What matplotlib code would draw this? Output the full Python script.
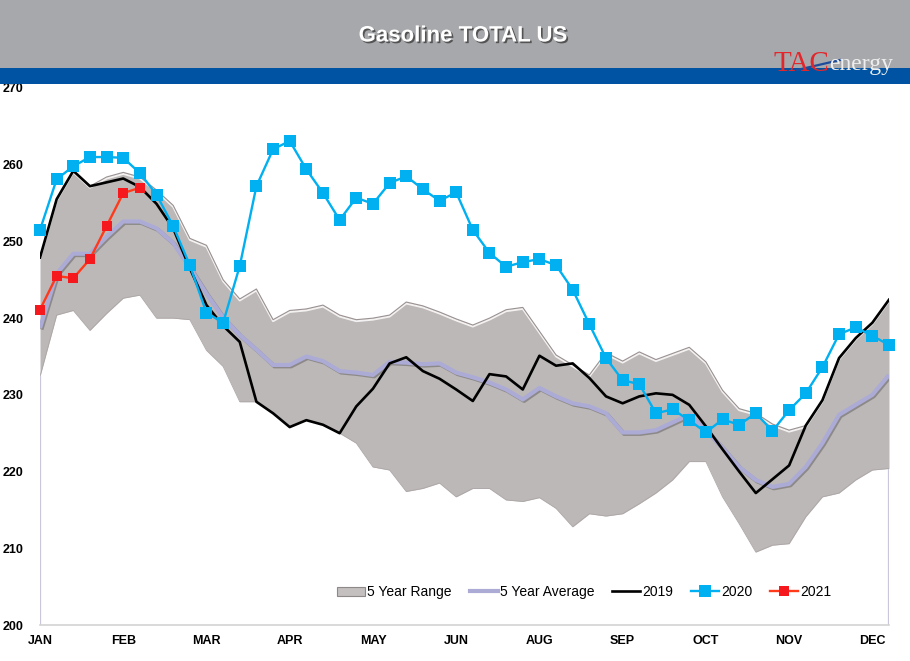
import numpy as np
import matplotlib
matplotlib.use("Agg")
import matplotlib.pyplot as plt
import matplotlib.patheffects as pe
from matplotlib.patches import Rectangle, Patch
from matplotlib.lines import Line2D
from matplotlib.transforms import offset_copy

# -------------------------
# data (weekly)
# -------------------------
month_labels = ["JAN", "FEB", "MAR", "APR", "MAY", "JUN", "AUG", "SEP", "OCT", "NOV", "DEC"]

range_upper = [247.9, 255.5, 259.2, 257.2, 258.4, 259.0, 258.4, 256.7, 254.7, 250.4,
               249.5, 245.0, 242.5, 243.8, 239.8, 241.0, 241.2, 241.7, 240.4, 239.8,
               240.0, 240.4, 242.1, 241.6, 240.8, 239.9, 239.1, 240.0, 241.1, 241.4,
               238.3, 235.2, 233.9, 232.6, 235.5, 234.4, 235.6, 234.6, 235.4, 236.2,
               234.3, 230.6, 228.2, 227.6, 226.2, 225.4, 226.0, 229.3, 234.8, 237.4,
               239.4, 242.4]

range_lower = [232.4, 240.4, 241.0, 238.4, 240.6, 242.6, 243.0, 240.0, 240.0, 239.8,
               235.8, 233.7, 229.1, 229.1, 227.6, 225.8, 226.7, 226.1, 225.0, 223.7,
               220.6, 220.2, 217.4, 217.8, 218.5, 216.7, 217.8, 217.8, 216.3, 216.1,
               216.6, 215.2, 212.8, 214.5, 214.2, 214.5, 215.8, 217.2, 218.9, 221.3,
               221.3, 216.7, 213.2, 209.5, 210.4, 210.6, 214.1, 216.7, 217.2, 218.9,
               220.2, 220.4]

avg_5yr = [238.7, 245.8, 248.4, 248.4, 250.6, 252.6, 252.6, 251.7, 249.8, 246.6,
           243.2, 240.1, 237.8, 235.9, 233.9, 233.9, 235.0, 234.4, 233.1, 232.9,
           232.6, 234.3, 234.2, 234.0, 234.1, 232.9, 232.3, 231.6, 230.7, 229.4,
           230.9, 229.8, 228.9, 228.5, 227.6, 225.1, 225.1, 225.4, 226.4, 227.4,
           225.4, 223.1, 220.6, 218.9, 218.0, 218.4, 220.6, 223.7, 227.4, 228.7,
           230.0, 232.6]

y2019 = [247.9, 255.5, 259.2, 257.2, 257.7, 258.2, 257.1, 254.9, 251.7, 246.5,
         241.7, 239.0, 236.9, 229.1, 227.6, 225.8, 226.7, 226.1, 225.0, 228.5,
         230.8, 234.1, 234.9, 233.1, 232.1, 230.7, 229.2, 232.7, 232.4, 230.7,
         235.1, 233.8, 234.1, 232.2, 229.8, 228.9, 229.8, 230.2, 230.0, 228.7,
         225.9, 222.9, 220.0, 217.2, 219.0, 220.8, 226.0, 229.3, 234.8, 237.4,
         239.4, 242.4]

y2020 = [251.5, 258.1, 259.8, 261.0, 261.0, 260.9, 258.9, 256.1, 252.0, 246.9,
         240.7, 239.4, 246.8, 257.2, 262.0, 263.1, 259.4, 256.3, 252.8, 255.7,
         254.9, 257.6, 258.5, 256.8, 255.3, 256.4, 251.5, 248.5, 246.7, 247.3,
         247.7, 246.9, 243.7, 239.2, 234.8, 231.9, 231.4, 227.6, 228.1, 226.7,
         225.1, 226.8, 226.1, 227.6, 225.3, 228.0, 230.2, 233.6, 237.9, 238.8,
         237.7, 236.5]

y2021 = [241.1, 245.5, 245.2, 247.7, 252.0, 256.3, 257.0]

weeks = np.arange(len(y2020))
tick_weeks = weeks[::5]

# -------------------------
# figure + header
# -------------------------
W, H = 910, 661
fig = plt.figure(figsize=(W / 100, H / 100), dpi=100)
fig.patch.set_facecolor("white")

def fx(px):
    return px / W

def fy(py):
    return 1 - py / H

fig.patches.append(Rectangle((0, fy(68)), 1, 1 - fy(68), transform=fig.transFigure,
                             facecolor="#A7A8AB", edgecolor="none", zorder=0))
fig.patches.append(Rectangle((0, fy(84)), 1, fy(68) - fy(84), transform=fig.transFigure,
                             facecolor="#0052A2", edgecolor="none", zorder=0))

fig.text(fx(463), fy(36), "Gasoline TOTAL US", ha="center", va="center",
         color="white", fontsize=16, fontweight="bold", family=["Liberation Sans", "DejaVu Sans"],
         path_effects=[pe.withSimplePatchShadow(offset=(1.2, -1.2), shadow_rgbFace="#303030", alpha=0.7)])

# logo
fig.text(fx(773), fy(71), "TAC", ha="left", va="baseline", color="#E3262B",
         fontsize=21, family=["Liberation Serif", "DejaVu Serif"])
fig.text(fx(829), fy(70), "energy", ha="left", va="baseline", color="#EEEEEE",
         fontsize=17, family=["Liberation Serif", "DejaVu Serif"])
fig.add_artist(Line2D([fx(797), fx(840)], [fy(70), fy(60)], transform=fig.transFigure,
                      color="#1E4C9C", lw=1.6))

# -------------------------
# plot area
# -------------------------
ax = fig.add_axes([fx(40), fy(625), fx(889) - fx(40), fy(88) - fy(625)])
ax.set_xlim(0, len(weeks) - 1)
ax.set_ylim(200, 270)

# 5 year range (beveled grey band)
ax.fill_between(weeks, range_lower, range_upper, color="#BDB8B8", lw=0, zorder=1)
ax.plot(weeks, range_upper, color="#9A9191", lw=0.8, zorder=1.2)
hl = offset_copy(ax.transData, fig=fig, x=0, y=-1.5, units="dots")
ax.plot(weeks, range_upper, color="#F3F1F1", lw=1.4, transform=hl, zorder=1.1)
ax.plot(weeks, range_lower, color="#ADA6A6", lw=0.6, zorder=1.2)
ax.vlines([weeks[0], weeks[-1]], 200, [range_lower[0], range_lower[-1]],
          color="#C8C8DA", lw=1.6, zorder=1.3)

ax.plot(weeks, avg_5yr, color="#ABABD6", lw=3.0, zorder=2, solid_capstyle="butt",
        path_effects=[pe.SimpleLineShadow(offset=(1, -1), alpha=0.25), pe.Normal()])
ax.plot(weeks, y2019, color="black", lw=1.9, zorder=3)
ax.plot(weeks, y2020, color="#00B0F0", lw=1.7, marker="s", markersize=8,
        markeredgewidth=0, zorder=4, clip_on=False)
ax.plot(weeks[:len(y2021)], y2021, color="#FF3A1A", lw=1.7, marker="s", markersize=7.5,
        markerfacecolor="#F5191E", markeredgewidth=0, zorder=5, clip_on=False)

for side in ["top", "left", "right"]:
    ax.spines[side].set_visible(False)
ax.spines["bottom"].set_color("#D3D3D3")
ax.spines["bottom"].set_linewidth(1.2)

tick_font = ["Liberation Sans Narrow", "Liberation Sans", "DejaVu Sans"]
ax.set_xticks(tick_weeks)
ax.set_xticklabels(month_labels, fontsize=9, fontweight="bold", family=tick_font)
ax.set_yticks(np.arange(200, 271, 10))
ax.set_yticklabels([str(v) for v in range(200, 271, 10)], fontsize=9,
                   fontweight="bold", family=tick_font)
for lab in ax.get_yticklabels():
    lab.set_horizontalalignment("left")
ax.tick_params(axis="both", length=0)
ax.tick_params(axis="y", pad=(40 - 3) * 0.72)
ax.tick_params(axis="x", pad=7)

# legend
handles = [
    Patch(facecolor="#C4C0C0", edgecolor="#8E8888", linewidth=0.8),
    Line2D([], [], color="#ABABD6", lw=3),
    Line2D([], [], color="black", lw=1.9),
    Line2D([], [], color="#00B0F0", lw=1.7, marker="s", markersize=8, markeredgewidth=0),
    Line2D([], [], color="#FF3A1A", lw=1.7, marker="s", markersize=7.5,
           markerfacecolor="#F5191E", markeredgewidth=0),
]
labels = ["5 Year Range", "5 Year Average", "2019", "2020", "2021"]
leg = ax.legend(handles, labels, loc="center", bbox_to_anchor=(0.641, 0.061), ncol=5,
                frameon=False, handlelength=2.0, handleheight=0.7,
                handletextpad=0.15, columnspacing=1.3,
                prop={"family": ["Liberation Sans", "DejaVu Sans"], "size": 10})

fig.savefig("out.png", dpi=100)
